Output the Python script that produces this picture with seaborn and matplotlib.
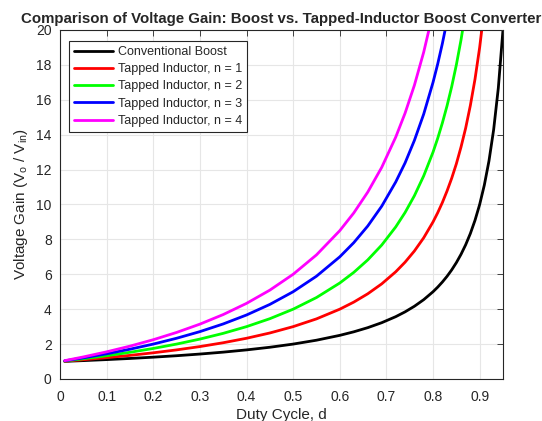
import matplotlib
matplotlib.use("Agg")
import matplotlib.pyplot as plt
import seaborn as sns
import pandas as pd
import numpy as np

duty = [0.01, 0.05, 0.10, 0.15, 0.20, 0.25, 0.30, 0.35, 0.40, 0.45, 0.50, 0.55,
        0.60, 0.63, 0.66, 0.69, 0.72, 0.74, 0.76, 0.78, 0.80, 0.81, 0.82, 0.83,
        0.84, 0.85, 0.86, 0.87, 0.88, 0.89, 0.90, 0.91, 0.92, 0.93, 0.94, 0.95]

gain_boost = [1.010, 1.053, 1.111, 1.176, 1.250, 1.333, 1.429, 1.538, 1.667, 1.818, 2.000, 2.222,
              2.500, 2.703, 2.941, 3.226, 3.571, 3.846, 4.167, 4.545, 5.000, 5.263, 5.556, 5.882,
              6.250, 6.667, 7.143, 7.692, 8.333, 9.091, 10.00, 11.11, 12.50, 14.29, 16.67, 20.00]
gain_n1 = [1.020, 1.105, 1.222, 1.353, 1.500, 1.667, 1.857, 2.077, 2.333, 2.636, 3.000, 3.444,
           4.000, 4.405, 4.882, 5.452, 6.143, 6.692, 7.333, 8.091, 9.000, 9.526, 10.11, 10.77,
           11.50, 12.33, 13.29, 14.38, 15.67, 17.18, 19.00, 21.22, 24.00, 27.57, 32.33, 39.00]
gain_n2 = [1.030, 1.158, 1.333, 1.529, 1.750, 2.000, 2.286, 2.615, 3.000, 3.455, 4.000, 4.667,
           5.500, 6.108, 6.824, 7.677, 8.714, 9.538, 10.50, 11.64, 13.00, 13.79, 14.67, 15.65,
           16.75, 18.00, 19.43, 21.08, 23.00, 25.27, 28.00, 31.33, 35.50, 40.86, 48.00, 58.00]
gain_n3 = [1.040, 1.211, 1.444, 1.706, 2.000, 2.333, 2.714, 3.154, 3.667, 4.273, 5.000, 5.889,
           7.000, 7.811, 8.765, 9.903, 11.29, 12.38, 13.67, 15.18, 17.00, 18.05, 19.22, 20.53,
           22.00, 23.67, 25.57, 27.77, 30.33, 33.36, 37.00, 41.44, 47.00, 54.14, 63.67, 77.00]
gain_n4 = [1.051, 1.263, 1.556, 1.882, 2.250, 2.667, 3.143, 3.692, 4.333, 5.091, 6.000, 7.111,
           8.500, 9.514, 10.71, 12.13, 13.86, 15.23, 16.83, 18.73, 21.00, 22.32, 23.78, 25.41,
           27.25, 29.33, 31.71, 34.46, 37.67, 41.45, 46.00, 51.56, 58.50, 67.43, 79.33, 96.00]

series_names = ["Conventional Boost", "Tapped Inductor, n = 1", "Tapped Inductor, n = 2",
                "Tapped Inductor, n = 3", "Tapped Inductor, n = 4"]
series_vals = [gain_boost, gain_n1, gain_n2, gain_n3, gain_n4]
colors = ["#000000", "#ff0000", "#00ff00", "#0000ff", "#ff00ff"]

xticks = [0, 0.1, 0.2, 0.3, 0.4, 0.5, 0.6, 0.7, 0.8, 0.9]
yticks = [0, 2, 4, 6, 8, 10, 12, 14, 16, 18, 20]

df = pd.concat([pd.DataFrame({"d": duty, "gain": v, "series": n})
                for n, v in zip(series_names, series_vals)], ignore_index=True)

sns.set_style("white")
plt.rcParams["font.family"] = ["Liberation Sans", "DejaVu Sans"]
plt.rcParams["mathtext.fontset"] = "custom"
plt.rcParams["mathtext.rm"] = "Liberation Sans"
plt.rcParams["mathtext.it"] = "Liberation Sans"

fig = plt.figure(figsize=(5.42, 4.21), dpi=100)
ax = fig.add_axes([0.1107, 0.0998, 0.8173, 0.829])

sns.lineplot(data=df, x="d", y="gain", hue="series", hue_order=series_names,
             palette=colors, linewidth=2.0, ax=ax, sort=False, estimator=None)

ax.set_xlim(0, 0.95)
ax.set_ylim(0, 20)
ax.set_xticks(xticks)
ax.set_xticklabels([f"{t:g}" for t in xticks])
ax.set_yticks(yticks)
ax.grid(True, color="#e6e6e6", linewidth=0.8)
ax.set_axisbelow(True)
for s in ax.spines.values():
    s.set_color("#262626")
    s.set_linewidth(0.8)
ax.tick_params(direction="in", length=4, width=0.6, colors="#262626", labelsize=10,
               top=True, right=True)
ax.tick_params(axis="x", pad=8)
ax.tick_params(axis="y", pad=6)

ax.set_xlabel("Duty Cycle, d", fontsize=11, color="#262626", labelpad=3)
ax.set_ylabel(r"Voltage Gain (V$_\mathrm{o}$ / V$_\mathrm{in}$)", fontsize=11, color="#262626")
ax.set_title("Comparison of Voltage Gain: Boost vs. Tapped-Inductor Boost Converter",
             fontsize=10.8, fontweight="bold", pad=5)

leg = ax.legend(loc="upper left", fontsize=9, frameon=True, fancybox=False,
                edgecolor="#262626", handlelength=3.1, handletextpad=0.4,
                borderpad=0.4, labelspacing=0.42, borderaxespad=0,
                bbox_to_anchor=(0.02, 0.9685), framealpha=1)
leg.get_frame().set_linewidth(0.8)

fig.savefig("out.png", dpi=100)
